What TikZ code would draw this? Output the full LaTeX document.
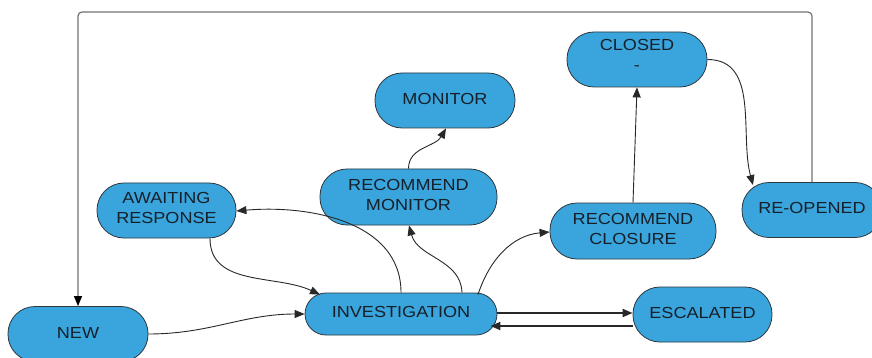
\documentclass[tikz,border=0pt]{standalone}
\usepackage{fontspec}
\setmainfont{Liberation Sans}[FakeStretch=1.13]
\usetikzlibrary{arrows.meta}
\definecolor{statefill}{RGB}{58,165,220}
\definecolor{statedraw}{RGB}{45,55,62}
\definecolor{statetext}{RGB}{22,32,42}
\definecolor{edgecol}{RGB}{40,40,40}
\definecolor{loopcol}{RGB}{115,115,115}
\tikzset{
  state/.style={draw=statedraw, line width=0.8pt, fill=statefill, text=statetext,
    rectangle, rounded corners=27pt, minimum width=140pt, minimum height=55pt,
    inner sep=0pt, align=center, font=\fontsize{16}{19.5}\selectfont},
  tip/.style={-{Triangle[length=10pt,width=8pt]}},
  edge/.style={tip, draw=edgecol, line width=0.9pt},
  thickedge/.style={tip, draw=edgecol, line width=1.8pt},
  loopline/.style={-{Triangle[length=10pt,width=8pt,color=black]}, draw=loopcol, line width=1.2pt, rounded corners=4pt}
}
\begin{document}
\begin{tikzpicture}[x=1pt,y=1pt]
\useasboundingbox[fill=white] (0,-358) rectangle (872,0);
% nodes
\node[state] (new) at (78,-334) {NEW\rule[-3pt]{0pt}{0pt}};
\node[state, minimum width=139pt] (await) at (166.5,-210.5) {AWAITING\\RESPONSE\rule[-5pt]{0pt}{0pt}};
\node[state, minimum width=192pt, minimum height=42pt, rounded corners=21pt] (inv) at (401,-314) {INVESTIGATION\rule[-4pt]{0pt}{0pt}};
\node[state, minimum width=139pt] (esc) at (702.5,-314.5) {ESCALATED\rule[-4pt]{0pt}{0pt}};
\node[state, minimum width=166pt, minimum height=56pt] (rc) at (633,-231) {RECOMMEND\\CLOSURE\rule[-4pt]{0pt}{0pt}};
\node[state] (ro) at (812,-210) {RE-OPENED\rule[-4pt]{0pt}{0pt}};
\node[state, minimum width=177pt, minimum height=56pt] (rm) at (408.5,-197) {RECOMMEND\\MONITOR\rule[-4pt]{0pt}{0pt}};
\node[state] (mon) at (445,-100.5) {MONITOR\rule[-4pt]{0pt}{0pt}};
\node[state] (closed) at (637,-59.5) {CLOSED\\-\rule[-9pt]{0pt}{0pt}};
\coordinate (tl) at (78,-12);
% connectors
\draw[loopline] (ro.north) |- (tl) -- (new.north);
\draw[edge] (new.east) to[out=0,in=180] (inv.west);
\draw[edge] ([xshift=43.5pt]await.south) to[out=-90,in=155] ([xshift=-81pt,yshift=-2pt]inv.north);
\draw[edge] (inv.north) to[out=90,in=5] ([yshift=-0.5pt]await.east);
\draw[edge] ([xshift=61pt]inv.north) to[out=92,in=-75] ([xshift=0.5pt]rm.south);
\draw[edge] ([xshift=77pt,yshift=-2pt]inv.north) to[out=72,in=185] ([yshift=-1pt]rc.west);
\draw[edge] (rm.north) to[out=90,in=-120] ([xshift=1pt]mon.south);
\draw[edge] (rc.north) -- (closed.south);
\draw[edge] (closed.east) to[out=0,in=105] ([xshift=-59pt,yshift=-3pt]ro.north);
\draw[thickedge] ([yshift=1pt]inv.east) -- ([yshift=1.5pt]esc.west);
\draw[thickedge] ([yshift=-11.5pt]esc.west) -- ([xshift=-7pt,yshift=-12pt]inv.east);
\end{tikzpicture}
\end{document}
